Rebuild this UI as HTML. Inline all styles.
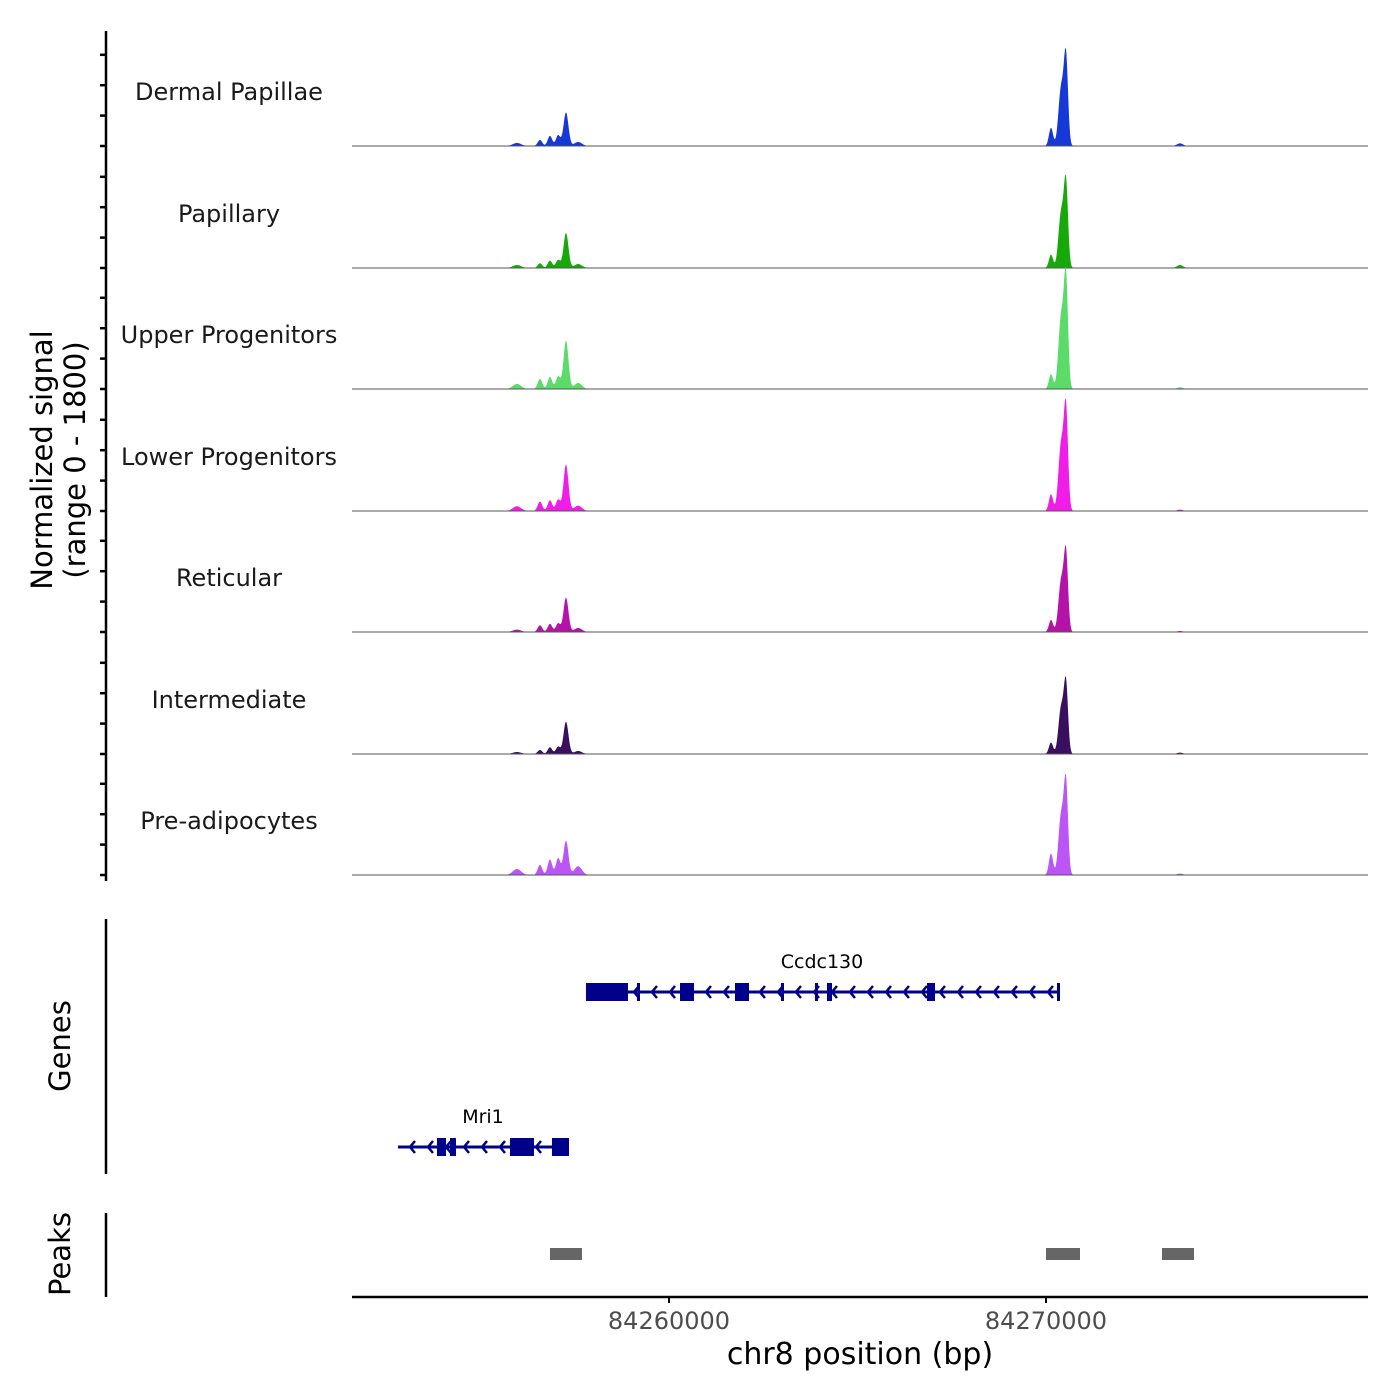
<!DOCTYPE html>
<html><head><meta charset="utf-8">
<style>
html,body{margin:0;padding:0;background:#fff;}
svg{display:block;font-family:"DejaVu Sans","Liberation Sans",sans-serif;}
</style></head>
<body>
<svg id="chart" width="1400" height="1400" viewBox="0 0 1400 1400" xmlns="http://www.w3.org/2000/svg"></svg>
<script>
// ---- data ----
const trackNames = ["Dermal Papillae","Papillary","Upper Progenitors","Lower Progenitors","Reticular","Intermediate","Pre-adipocytes"];
const trackColors = ["#1538d6","#17a90a","#5bdc6a","#f01ce8","#b512a8","#3a0f60","#bb55f5"];
// peak centers (bp) and widths (bp)
const peakCenters = [84255968, 84256578, 84256843, 84257060, 84257268, 84257590, 84270133, 84270400, 84270530, 84273554];
const peakWidths  = [110, 60, 60, 60, 65, 100, 55, 70, 55, 80];
// heights (normalized signal, range 0-1800) per track per peak
const peakHeights = [
  [45, 90, 150, 160, 500, 60, 270, 850, 1290, 40],
  [45, 70, 110, 120, 520, 60, 200, 810, 1230, 45],
  [75, 150, 180, 190, 720, 90, 220, 1060, 1610, 25],
  [70, 140, 160, 170, 690, 80, 250, 980, 1480, 20],
  [35, 100, 120, 130, 510, 60, 180, 750, 1140, 15],
  [30, 60, 100, 110, 480, 45, 170, 680, 1020, 20],
  [90, 150, 230, 250, 510, 130, 320, 880, 1330, 20]
];
const xTicks = [84260000, 84270000];
const xTickLabels = ["84260000","84270000"];
const genes = [
  {name:"Ccdc130", start:84257798, end:84270318, row:0,
   exons:[[84257798,84258912],[84259151,84259231],[84260292,84260663],[84261751,84262122],[84262971,84263024],[84263873,84263926],[84264191,84264324],[84266844,84267056],[84270292,84270345]]},
  {name:"Mri1", start:84252812, end:84257348, row:1,
   exons:[[84253846,84254085],[84254191,84254350],[84255782,84256419],[84256896,84257348]]}
];
const peakRegions = [[84256843,84257692],[84270000,84270902],[84273077,84273926]];

// ---- scales ----
const X0=352, X1=1368, BP0=84251592, BP1=84278541;
const xs = bp => X0 + (bp-BP0)/(BP1-BP0)*(X1-X0);
const baselines=[146,268,389,511,632,754,875];
const ys = (v,b) => b - v/1800*121;
const svg=document.getElementById('chart');
const NS="http://www.w3.org/2000/svg";
function mk(tag,attrs,parent){const e=document.createElementNS(NS,tag);for(const k in attrs)e.setAttribute(k,attrs[k]);(parent||svg).appendChild(e);return e;}

// left axis
const ax=mk('line',{x1:106,y1:31,x2:106,y2:881,stroke:'#000','stroke-width':2.5});


baselines.forEach(b=>{for(let k=0;k<4;k++){const t=mk('line',{x1:100,x2:106,y1:b-k*30.4,y2:b-k*30.4,stroke:'#000','stroke-width':2.5});

}});
const yt=mk('text',{x:0,y:0,'font-size':29,'text-anchor':'middle',transform:'translate(52,460) rotate(-90)'});


mk('tspan',{x:0,dy:0},yt).textContent='Normalized signal';
mk('tspan',{x:0,dy:33},yt).textContent='(range 0 - 1800)';

// tracks
trackNames.forEach((name,i)=>{
  const b=baselines[i];
  const g=mk('g',{});
  
  
  let d='M'+X0+','+b;
  for(let px=X0;px<=X1;px+=0.5){
    const bp=BP0+(px-X0)/(X1-X0)*(BP1-BP0);
    let v=0;
    peakCenters.forEach((c,j)=>{const z=(bp-c)/peakWidths[j];v+=peakHeights[i][j]*Math.exp(-0.5*z*z);});
    d+=' L'+px+','+ys(v,b).toFixed(2);
  }
  d+=' L'+X1+','+b+' Z';
  const p=mk('path',{d:d,fill:trackColors[i],stroke:'none'},g);
  
  
  const bl=mk('line',{x1:X0,x2:X1,y1:b,y2:b,stroke:'#555','stroke-width':1},g);
  
  
  const lb=mk('text',{x:229,y:b-46,'font-size':24,'text-anchor':'middle',fill:'#1a1a1a'},g);
  lb.textContent=name;
  
  
});

// genes
const ga=mk('line',{x1:106,y1:919,x2:106,y2:1174,stroke:'#000','stroke-width':2.5});


const gt=mk('text',{x:0,y:0,'font-size':29,'text-anchor':'middle',transform:'translate(70,1046) rotate(-90)'});
gt.textContent='Genes';


const rowY=[992,1147];
genes.forEach(gn=>{
  const y=rowY[gn.row];
  const g=mk('g',{fill:'#00008b',stroke:'#00008b'});
  
  
  const x1=xs(gn.start),x2=xs(gn.end);
  mk('line',{x1:x1,x2:x2,y1:y,y2:y,'stroke-width':3},g);
  for(let x=x1+12;x<x2-6;x+=18){mk('polyline',{points:(x+5)+','+(y-6)+' '+x+','+y+' '+(x+5)+','+(y+6),fill:'none','stroke-width':2.5},g);}
  gn.exons.forEach(e=>{const a=xs(e[0]),c=xs(e[1]);const r=mk('rect',{x:a,y:y-9,width:Math.max(3,c-a),height:18,stroke:'none'},g);
    
    });
  const t=mk('text',{x:(gn.row===0?822:483),y:y-24,'font-size':19,'text-anchor':'middle',fill:'#000',stroke:'none'},g);
  t.textContent=gn.name;
});

// peaks
const pa=mk('line',{x1:106,y1:1213,x2:106,y2:1297,stroke:'#000','stroke-width':2.5});


const pt=mk('text',{x:0,y:0,'font-size':29,'text-anchor':'middle',transform:'translate(70,1254) rotate(-90)'});
pt.textContent='Peaks';


peakRegions.forEach(r=>{const a=xs(r[0]),c=xs(r[1]);const e=mk('rect',{x:a,y:1248,width:c-a,height:12,fill:'#666'});
  
  });

// x axis
const xa=mk('line',{x1:X0,x2:X1,y1:1297,y2:1297,stroke:'#000','stroke-width':2.5});


xTicks.forEach((t,i)=>{const x=xs(t);
  const tk=mk('line',{x1:x,x2:x,y1:1297,y2:1303,stroke:'#000','stroke-width':2});
  
  
  const tl=mk('text',{x:x,y:1329,'font-size':24,'text-anchor':'middle',fill:'#4d4d4d'});
  tl.textContent=xTickLabels[i];
  
  });
const xt=mk('text',{x:860,y:1364,'font-size':30,'text-anchor':'middle',fill:'#000'});
xt.textContent='chr8 position (bp)';


</script>
</body></html>
